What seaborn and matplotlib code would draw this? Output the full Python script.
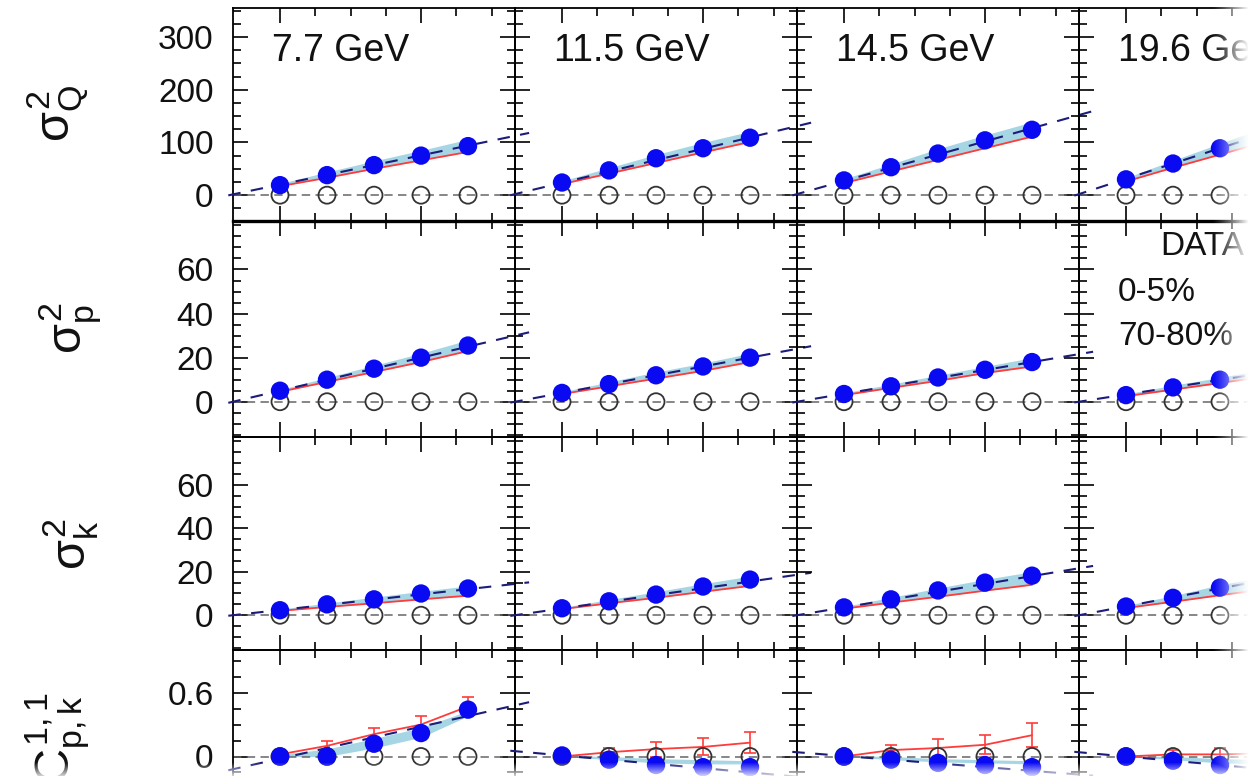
import numpy as np
import pandas as pd
import matplotlib
matplotlib.use("Agg")
import matplotlib.pyplot as plt
import seaborn as sns
from matplotlib.ticker import FixedLocator, NullFormatter

sns.set_theme(style="white")
plt.rcParams["font.family"] = ["Liberation Sans", "DejaVu Sans"]
plt.rcParams["mathtext.fontset"] = "custom"
plt.rcParams["mathtext.rm"] = "Liberation Sans"
plt.rcParams["mathtext.it"] = "Liberation Sans"
plt.rcParams["mathtext.bf"] = "Liberation Sans:bold"

# ---------------- data ----------------
x_bins = [1, 2, 3, 4, 5]
energies = ["7.7 GeV", "11.5 GeV", "14.5 GeV", "19.6 GeV"]
row_labels = [r"$\sigma^2_Q$", r"$\sigma^2_p$", r"$\sigma^2_k$", r"$C^{1,1}_{p,k}$"]

# sigma^2_Q
q_central = [[19, 38, 57, 75, 93], [24, 47, 70, 89, 109], [28, 53, 79, 104, 124], [30, 60, 89, 118, 147]]
q_model = [[17, 33, 50, 66, 82], [21, 41, 61, 81, 101], [23, 45, 67, 89, 111], [26, 52, 77, 102, 127]]
q_band_hi = [[22, 44, 65, 85, 106], [27, 52, 77, 100, 121], [31, 59, 88, 114, 139], [33, 66, 98, 130, 160]]
q_line = [[1.5, 18.5], [2.0, 21.5], [2.0, 25.0], [2.0, 29.0]]  # intercept, slope

# sigma^2_p
p_central = [[5, 10, 15, 20, 25.5], [4, 8, 12, 16, 20], [3.5, 7, 11, 14.5, 18], [3, 6.5, 10, 13.5, 17]]
p_model = [[4.5, 9, 13.5, 18, 23], [3.5, 7, 10.5, 14, 18], [3, 6.3, 9.5, 13, 16], [2.5, 5.5, 8.5, 11.5, 14.5]]
p_band_hi = [[5.5, 11, 16.5, 22, 28], [4.5, 9, 13.5, 17.5, 22], [4, 8, 12, 16, 20], [3.5, 7.5, 11, 15, 19]]
p_line = [[0.0, 5.0], [0.0, 4.0], [0.0, 3.6], [0.0, 3.3]]

# sigma^2_k
k_central = [[2.3, 5, 7.3, 10, 12.3], [3.2, 6.4, 9.5, 13.2, 16.4], [3.6, 7.3, 11.4, 15, 18.2], [4, 8, 12.7, 16.5, 20.5]]
k_model = [[2, 3.8, 5.5, 7.3, 9], [2.8, 5.5, 8, 10.8, 13.5], [3, 5.8, 8.5, 11.3, 14], [3.3, 6.2, 9.2, 12, 15]]
k_band_hi = [[2.8, 5.6, 8.3, 11, 13.5], [3.6, 7.2, 10.8, 14.5, 18], [4, 8.2, 12.5, 16.5, 20], [4.5, 9, 14, 18, 22.5]]
k_line = [[0.0, 2.4], [0.0, 3.1], [0.0, 3.6], [0.0, 4.1]]

# C^{1,1}_{p,k}
c_central = [[0.0, 0.0, 0.12, 0.22, 0.44], [0.01, -0.03, -0.08, -0.1, -0.1],
             [0.0, -0.03, -0.06, -0.08, -0.1], [0.0, -0.04, -0.08, -0.1, -0.12]]
c_model = [[0.02, 0.1, 0.21, 0.30, 0.47], [0.0, 0.04, 0.07, 0.09, 0.13],
           [0.0, 0.06, 0.08, 0.11, 0.2], [0.0, 0.02, 0.02, 0.03, 0.04]]
c_model_err = [[0.02, 0.05, 0.06, 0.08, 0.09], [0.02, 0.04, 0.07, 0.08, 0.1],
               [0.02, 0.05, 0.08, 0.09, 0.11], [0.02, 0.04, 0.06, 0.07, 0.08]]
c_band_lo = [[0.0, 0.0, 0.08, 0.18, 0.38], [0.0, -0.03, -0.06, -0.07, -0.07],
             [0.0, -0.03, -0.05, -0.06, -0.07], [0.0, -0.03, -0.06, -0.07, -0.08]]
c_band_hi = [[0.02, 0.07, 0.17, 0.27, 0.43], [0.01, 0.0, -0.02, -0.03, -0.04],
             [0.01, 0.0, -0.02, -0.03, -0.04], [0.01, 0.0, -0.02, -0.03, -0.04]]
c_line = [[-0.12, 0.10], [0.05, -0.04], [0.04, -0.035], [0.04, -0.04]]

peripheral = [0, 0, 0, 0, 0]

legend_texts = ["DATA", "0-5%", "70-80%"]

# axis settings per row
ylims = [(-49, 355), (-16, 82), (-16, 82), (-1.0, 1.0)]
y_major = [[0, 100, 200, 300], [0, 20, 40, 60], [0, 20, 40, 60], [0, 0.6]]
y_major_labels = [["0", "100", "200", "300"], ["0", "20", "40", "60"], ["0", "20", "40", "60"], ["0", "0.6"]]
y_minor_step = [25, 5, 5, 0.15]
x_major = [1, 4]
x_minor = [1.75, 2.5, 3.25, 4.75, 5.5]

# ---------------- style ----------------
BLUE = "#0a0af2"
RED = "#ff3b3b"
BAND = "#a6d6e4"
NAVY = "#1c1c7a"
GRAY = "#666666"

W, H = 1253, 776
fig = plt.figure(figsize=(W / 100, H / 100), dpi=100)
fig.patch.set_facecolor("white")

col_left = [233, 515, 797, 1079]
col_w = 282
row_top = [8, 221, 437, 650]
row_h = [213, 216, 213, 213]

rows = [
    (q_central, q_model, None, q_model, q_band_hi, q_line),
    (p_central, p_model, None, p_model, p_band_hi, p_line),
    (k_central, k_model, None, k_model, k_band_hi, k_line),
    (c_central, c_model, c_model_err, c_band_lo, c_band_hi, c_line),
]

for i in range(4):
    central, model, merr, blo, bhi, lines = rows[i]
    for j in range(4):
        rect = [col_left[j] / W, 1 - (row_top[i] + row_h[i]) / H, col_w / W, row_h[i] / H]
        ax = fig.add_axes(rect)
        ax.set_facecolor("none")
        df = pd.DataFrame({
            "x": x_bins,
            "data": central[j],
            "model": model[j],
            "lo": blo[j],
            "hi": bhi[j],
            "peri": peripheral,
        })
        ax.set_xlim(0, 6)
        ax.set_ylim(*ylims[i])

        ax.fill_between(df["x"], df["lo"], df["hi"], color=BAND, lw=0, zorder=1)
        ax.axhline(0, color=GRAY, lw=1.1, ls=(0, (5.5, 3.5)), zorder=2)
        sns.lineplot(data=df, x="x", y="model", ax=ax, color=RED, lw=1.3, zorder=3,
                     legend=False)
        if merr is not None:
            ax.errorbar(df["x"], df["model"], yerr=merr[j], fmt="none", ecolor=RED,
                        elinewidth=1.2, capsize=4, capthick=1.2, zorder=3)
        a, b = lines[j]
        xl = np.array([-0.1, 6.3])
        ax.plot(xl, a + b * xl, color=NAVY, lw=1.5, ls=(0, (6, 5)), zorder=4, clip_on=False)
        ax.scatter(df["x"], df["peri"], s=150, facecolors="none", edgecolors="#333333",
                   linewidths=1.3, zorder=5)
        sns.scatterplot(data=df, x="x", y="data", ax=ax, color=BLUE, s=175,
                        edgecolor="none", zorder=6, legend=False)

        ax.set_xlabel("")
        ax.set_ylabel("")
        ax.xaxis.set_major_locator(FixedLocator(x_major))
        ax.xaxis.set_minor_locator(FixedLocator(x_minor))
        ax.yaxis.set_major_locator(FixedLocator(y_major[i]))
        lo_, hi_ = ylims[i]
        st = y_minor_step[i]
        minors = np.arange(np.ceil(lo_ / st) * st, hi_ + 1e-9, st)
        ax.yaxis.set_minor_locator(FixedLocator(minors))
        ax.xaxis.set_minor_formatter(NullFormatter())
        ax.yaxis.set_minor_formatter(NullFormatter())
        ax.set_yticklabels(y_major_labels[i])
        ax.tick_params(which="both", direction="in", top=True, bottom=True, left=True,
                       right=True, labelbottom=False, labelleft=(j == 0),
                       labelsize=24, pad=14, width=1.2, color="black", labelcolor="#111111")
        ax.tick_params(which="major", length=11)
        ax.tick_params(which="minor", length=6)
        for sp in ax.spines.values():
            sp.set_visible(True)
            sp.set_color("black")
            sp.set_linewidth(1.3)
        if i == 0:
            ax.spines["bottom"].set_linewidth(2.4)

        if i == 0:
            ax.text(0.138, 0.80, energies[j], transform=ax.transAxes, fontsize=27,
                    ha="left", va="center", color="#111111")
        if i == 1 and j == 3:
            ax.text(0.287, 0.88, legend_texts[0], transform=ax.transAxes, fontsize=24,
                    ha="left", va="center", color="#111111")
            ax.text(0.138, 0.667, legend_texts[1], transform=ax.transAxes, fontsize=24,
                    ha="left", va="center", color="#111111")
            ax.text(0.138, 0.463, legend_texts[2], transform=ax.transAxes, fontsize=24,
                    ha="left", va="center", color="#111111")

# row labels
label_pos = [(58, 114), (70, 328), (70, 544), (58, 738)]
for lab, (px, py) in zip(row_labels, label_pos):
    fig.text(px / W, 1 - py / H, lab, rotation=90, fontsize=35, ha="center", va="center",
             color="#111111")

# soft white fade at right and bottom edges (as in the reference crop)
fade = fig.add_axes([0, 0, 1, 1], zorder=100)
fade.set_axis_off()
img = np.ones((H, W, 4))
xs = np.arange(W)
ys = np.arange(H)
ax_r = np.clip((xs - 1212) / 36.0, 0, 1) ** 1.2
ay_b = np.clip((ys - 762) / 14.0, 0, 1) * 0.85
img[..., 3] = np.maximum(ax_r[None, :], ay_b[:, None])
fade.imshow(img, extent=[0, 1, 0, 1], aspect="auto", interpolation="bilinear")
fade.set_xlim(0, 1)
fade.set_ylim(0, 1)

fig.savefig("out.png", dpi=100, facecolor="white")
